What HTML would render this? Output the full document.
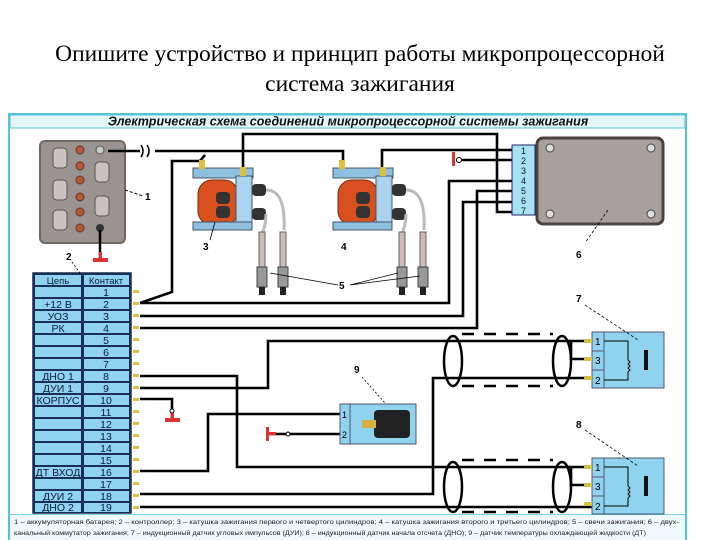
<!DOCTYPE html>
<html><head><meta charset="utf-8"><style>
html,body{margin:0;padding:0;background:#fff;width:720px;height:540px;overflow:hidden}
.t{position:absolute;left:0;width:720px;text-align:center;font-family:"Liberation Serif",serif;font-size:23.5px;color:#000;white-space:nowrap}
</style></head><body>
<div class="t" style="top:41px">Опишите устройство и принцип работы микропроцессорной</div>
<div class="t" style="top:71px">система зажигания</div>
<svg width="720" height="540" style="position:absolute;left:0;top:0" font-family="Liberation Sans, sans-serif">
<!-- frame -->
<rect x="9" y="114" width="677" height="430" fill="#fff" stroke="#55c4d6" stroke-width="2"/>
<rect x="10" y="115" width="675" height="13" fill="#e4f6fa" stroke="#55c4d6" stroke-width="1"/>
<text x="348" y="125.5" font-size="12.5" font-weight="bold" font-style="italic" text-anchor="middle" fill="#111">Электрическая схема соединений микропроцессорной системы зажигания</text>
<line x1="10" y1="515" x2="685" y2="515" stroke="#55c4d6" stroke-width="1.5"/>
<rect x="10" y="515" width="675" height="27" fill="#eef9fc"/>
<text x="14" y="524" font-size="6.3" fill="#222" textLength="665" lengthAdjust="spacingAndGlyphs">1 – аккумуляторная батарея; 2 – контроллер; 3 – катушка зажигания первого и четвертого цилиндров; 4 – катушка зажигания второго и третьего цилиндров; 5 – свечи зажигания; 6 – двух-</text>
<text x="14" y="535" font-size="6.3" fill="#222" textLength="632" lengthAdjust="spacingAndGlyphs">канальный коммутатор зажигания; 7 – индукционный датчик угловых импульсов (ДУИ); 8 – индукционный датчик начала отсчета (ДНО); 9 – датчик температуры охлаждающей жидкости (ДТ)</text>

<!-- battery -->
<rect x="40" y="141" width="85" height="102" rx="5" fill="#9a9390" stroke="#6e6764" stroke-width="2"/>
<g fill="#c9c3bf" stroke="#555" stroke-width="1">
<rect x="53" y="148" width="14" height="20" rx="4"/><rect x="95" y="162" width="14" height="20" rx="4"/>
<rect x="53" y="180" width="14" height="20" rx="4"/><rect x="95" y="196" width="14" height="20" rx="4"/>
<rect x="53" y="210" width="14" height="20" rx="4"/>
</g>
<g fill="#b05a3a" stroke="#6a3020" stroke-width="1">
<circle cx="80" cy="150" r="4"/><circle cx="80" cy="166" r="4"/><circle cx="80" cy="180" r="4"/><circle cx="80" cy="197" r="4"/><circle cx="80" cy="212" r="4"/><circle cx="80" cy="228" r="4"/>
</g>
<circle cx="100" cy="150" r="4" fill="#ccc" stroke="#555"/>
<circle cx="100" cy="228" r="4" fill="#333"/>
<line x1="125" y1="190" x2="143" y2="196" stroke="#000" stroke-dasharray="3,2"/>
<text x="145" y="200" font-size="10" font-weight="bold">1</text>
<line x1="100" y1="230" x2="100" y2="258" stroke="#000" stroke-width="2.5"/>
<rect x="93" y="258" width="15" height="4" fill="#d33"/><rect x="99" y="252" width="3" height="8" fill="#d33"/>
<text x="66" y="260" font-size="10" font-weight="bold">2</text>

<!-- wires top -->
<g fill="none" stroke="#000" stroke-width="2.6">
<polyline points="108,151 140,151"/><polyline points="155,151 343,151 343,162"/>
<polyline points="140,303 172,292 172,161 200,161 205,155"/>
<polyline points="243,167 243,134 497,134 497,212 512,212"/>
<polyline points="382,170 382,150 512,150"/>
<polyline points="458,160 512,160"/>
<polyline points="512,181 449,181 449,303 140,303"/>
<polyline points="512,202 463,202 463,316 140,316"/>
<polyline points="512,191 477,191 477,328 140,328"/>
<polyline points="140,376 237,376 237,467 592,467"/>
<polyline points="140,388 268,388 268,341 592,341"/>
<polyline points="140,399 172,399 172,418"/>
<polyline points="140,471 208,471 208,414 340,414"/>
<polyline points="140,494 433,494 433,378 592,378"/>
<polyline points="140,507 592,507"/>
<polyline points="571,341 571,359 592,359"/>
<polyline points="571,467 571,485 592,485"/>
<polyline points="268,434 340,434"/>
</g>
<path d="M141,145 q4,6 0,12 M147,145 q4,6 0,12" stroke="#000" fill="none" stroke-width="1.5"/>
<!-- grounds -->
<rect x="452" y="152" width="3" height="14" fill="#d33"/><circle cx="459" cy="160" r="2.5" fill="#fff" stroke="#000"/>
<rect x="165" y="418" width="15" height="4" fill="#d33"/><rect x="171" y="411" width="3" height="9" fill="#d33"/><circle cx="172" cy="411" r="2" fill="#fff" stroke="#000"/>
<rect x="266" y="427" width="3" height="14" fill="#d33"/><rect x="268" y="432" width="8" height="3" fill="#d33"/><circle cx="288" cy="434" r="2" fill="#fff" stroke="#000"/>

<!-- coils -->
<g id="coil">
<rect x="193" y="168" width="60" height="10" fill="#8fc0e0" stroke="#456" stroke-width="1"/>
<rect x="198" y="180" width="40" height="45" rx="14" fill="#d8501e" stroke="#7a2a10"/>
<rect x="236" y="176" width="16" height="52" fill="#a9d3ef" stroke="#456"/>
<rect x="193" y="222" width="59" height="8" fill="#8fc0e0" stroke="#456"/>
<rect x="216" y="192" width="14" height="12" rx="4" fill="#333"/><rect x="216" y="206" width="14" height="12" rx="4" fill="#333"/>
<rect x="252" y="184" width="14" height="12" rx="4" fill="#333"/><rect x="252" y="208" width="14" height="12" rx="4" fill="#333"/>
<rect x="199" y="160" width="6" height="9" fill="#d8c040"/><rect x="240" y="167" width="6" height="9" fill="#d8c040"/>
<path d="M266,190 q20,0 18,40 M266,214 q0,10 -4,20" stroke="#bbb" stroke-width="3" fill="none"/>
<rect x="259" y="232" width="6" height="35" fill="#cbb" stroke="#665"/><rect x="280" y="232" width="6" height="35" fill="#cbb" stroke="#665"/>
<rect x="257" y="267" width="10" height="20" fill="#999" stroke="#444"/><rect x="278" y="267" width="10" height="20" fill="#999" stroke="#444"/>
<rect x="259" y="287" width="6" height="8" fill="#222"/><rect x="280" y="287" width="6" height="8" fill="#222"/>
</g>
<use href="#coil" x="140"/>
<text x="203" y="250" font-size="10" font-weight="bold">3</text>
<text x="341" y="250" font-size="10" font-weight="bold">4</text>
<line x1="215" y1="222" x2="210" y2="240" stroke="#000" stroke-width="0.8"/>
<path d="M270,273 L338,285 M287,276 L338,285 M398,273 L350,285 M420,276 L350,285" stroke="#000" stroke-width="0.8" fill="none"/>
<text x="339" y="289" font-size="10" font-weight="bold">5</text>

<!-- controller 6 -->
<rect x="512" y="145" width="23" height="70" fill="#a6e2f4" stroke="#226"/>
<g font-size="9" fill="#112"><text x="521" y="154">1</text><text x="521" y="164">2</text><text x="521" y="174">3</text><text x="521" y="184">4</text><text x="521" y="194">5</text><text x="521" y="204">6</text><text x="521" y="214">7</text></g>
<rect x="537" y="138" width="126" height="86" rx="6" fill="#a8a09a" stroke="#4a4441" stroke-width="3"/>
<g fill="#ddd" stroke="#444"><circle cx="550" cy="148" r="4"/><circle cx="651" cy="148" r="4"/><circle cx="550" cy="214" r="4"/><circle cx="651" cy="214" r="4"/></g>
<line x1="608" y1="210" x2="585" y2="243" stroke="#000" stroke-width="0.8" stroke-dasharray="3,2"/>
<text x="576" y="258" font-size="10" font-weight="bold">6</text>

<!-- table -->
<rect x="33" y="273" width="98" height="240" fill="#1a2f55" stroke="#1a2f55" stroke-width="1.5"/>
<g fill="#8fd3ee">
<rect x="35" y="275" width="46" height="10"/><rect x="84" y="275" width="45" height="10"/>
<rect x="35" y="287" width="46" height="10"/><rect x="84" y="287" width="45" height="10"/>
<rect x="35" y="299" width="46" height="10"/><rect x="84" y="299" width="45" height="10"/>
<rect x="35" y="311" width="46" height="10"/><rect x="84" y="311" width="45" height="10"/>
<rect x="35" y="323" width="46" height="10"/><rect x="84" y="323" width="45" height="10"/>
<rect x="35" y="335" width="46" height="10"/><rect x="84" y="335" width="45" height="10"/>
<rect x="35" y="347" width="46" height="10"/><rect x="84" y="347" width="45" height="10"/>
<rect x="35" y="359" width="46" height="10"/><rect x="84" y="359" width="45" height="10"/>
<rect x="35" y="371" width="46" height="10"/><rect x="84" y="371" width="45" height="10"/>
<rect x="35" y="383" width="46" height="10"/><rect x="84" y="383" width="45" height="10"/>
<rect x="35" y="395" width="46" height="10"/><rect x="84" y="395" width="45" height="10"/>
<rect x="35" y="407" width="46" height="10"/><rect x="84" y="407" width="45" height="10"/>
<rect x="35" y="419" width="46" height="10"/><rect x="84" y="419" width="45" height="10"/>
<rect x="35" y="431" width="46" height="10"/><rect x="84" y="431" width="45" height="10"/>
<rect x="35" y="443" width="46" height="10"/><rect x="84" y="443" width="45" height="10"/>
<rect x="35" y="455" width="46" height="10"/><rect x="84" y="455" width="45" height="10"/>
<rect x="35" y="467" width="46" height="10"/><rect x="84" y="467" width="45" height="10"/>
<rect x="35" y="479" width="46" height="10"/><rect x="84" y="479" width="45" height="10"/>
<rect x="35" y="491" width="46" height="10"/><rect x="84" y="491" width="45" height="10"/>
<rect x="35" y="503" width="46" height="9"/><rect x="84" y="503" width="45" height="9"/>
</g>
<g font-size="9.5" fill="#0a1a3a" text-anchor="middle">
<text x="58" y="284">Цепь</text><text x="106" y="284">Контакт</text>
</g>
<g font-size="10.5" fill="#0a1a3a" text-anchor="middle">
<text x="106" y="296">1</text><text x="106" y="308">2</text><text x="106" y="320">3</text><text x="106" y="332">4</text><text x="106" y="344">5</text><text x="106" y="356">6</text><text x="106" y="368">7</text><text x="106" y="380">8</text><text x="106" y="392">9</text><text x="106" y="404">10</text><text x="106" y="416">11</text><text x="106" y="428">12</text><text x="106" y="440">13</text><text x="106" y="452">14</text><text x="106" y="464">15</text><text x="106" y="476">16</text><text x="106" y="488">17</text><text x="106" y="500">18</text><text x="106" y="511">19</text>
<text x="58" y="308">+12 В</text><text x="58" y="320">УОЗ</text><text x="58" y="332">РК</text><text x="58" y="380">ДНО 1</text><text x="58" y="392">ДУИ 1</text><text x="58" y="404">КОРПУС</text><text x="58" y="476">ДТ ВХОД</text><text x="58" y="500">ДУИ 2</text><text x="58" y="511">ДНО 2</text>
</g>
<g fill="#d8c040">
<rect x="133" y="290" width="6" height="3"/><rect x="133" y="302" width="6" height="3"/><rect x="133" y="314" width="6" height="3"/><rect x="133" y="326" width="6" height="3"/><rect x="133" y="338" width="6" height="3"/><rect x="133" y="350" width="6" height="3"/><rect x="133" y="362" width="6" height="3"/><rect x="133" y="374" width="6" height="3"/><rect x="133" y="386" width="6" height="3"/><rect x="133" y="398" width="6" height="3"/><rect x="133" y="410" width="6" height="3"/><rect x="133" y="422" width="6" height="3"/><rect x="133" y="434" width="6" height="3"/><rect x="133" y="446" width="6" height="3"/><rect x="133" y="458" width="6" height="3"/><rect x="133" y="470" width="6" height="3"/><rect x="133" y="482" width="6" height="3"/><rect x="133" y="494" width="6" height="3"/><rect x="133" y="506" width="6" height="3"/>
</g>
<line x1="72" y1="262" x2="80" y2="273" stroke="#000" stroke-width="0.8" stroke-dasharray="2,2"/>

<!-- sensor 9 -->
<rect x="340" y="404" width="76" height="40" fill="#8fd3ee" stroke="#557"/>
<line x1="350" y1="404" x2="350" y2="444" stroke="#557"/>
<text x="342" y="418" font-size="9">1</text><text x="342" y="438" font-size="9">2</text>
<rect x="374" y="410" width="36" height="28" rx="4" fill="#222"/>
<rect x="362" y="420" width="14" height="8" fill="#d8b040"/>
<line x1="362" y1="377" x2="385" y2="403" stroke="#000" stroke-width="0.8" stroke-dasharray="2,2"/>
<text x="354" y="373" font-size="10" font-weight="bold">9</text>

<!-- sensors 7 & 8 -->
<g id="sens">
<rect x="592" y="332" width="72" height="56" fill="#8fd3ee" stroke="#557"/>
<line x1="604" y1="332" x2="604" y2="388" stroke="#557"/><line x1="592" y1="351" x2="604" y2="351" stroke="#557"/><line x1="592" y1="370" x2="604" y2="370" stroke="#557"/>
<text x="595" y="345" font-size="10">1</text><text x="595" y="364" font-size="10">3</text><text x="595" y="384" font-size="10">2</text>
<path d="M604,341 H628 V360 M628,372 V380 H604" stroke="#000" fill="none" stroke-width="1"/>
<path d="M628,360 l2,2 -2,2 2,2 -2,2 2,2 -2,2" stroke="#000" fill="none" stroke-width="1"/>
<rect x="644" y="350" width="4" height="20" fill="#111"/>
<ellipse cx="453" cy="361" rx="9" ry="25" fill="none" stroke="#000" stroke-width="2.5"/>
<ellipse cx="562" cy="361" rx="9" ry="25" fill="none" stroke="#000" stroke-width="2.5"/>
<line x1="462" y1="334" x2="553" y2="334" stroke="#000" stroke-width="2.5" stroke-dasharray="12,10"/>
<line x1="462" y1="386" x2="553" y2="386" stroke="#000" stroke-width="2.5" stroke-dasharray="12,10"/>
<rect x="584" y="339" width="8" height="4" fill="#d8c040"/><rect x="584" y="357" width="8" height="4" fill="#d8c040"/><rect x="584" y="376" width="8" height="4" fill="#d8c040"/>
</g>
<use href="#sens" y="126"/>
<line x1="585" y1="305" x2="638" y2="340" stroke="#000" stroke-width="0.8" stroke-dasharray="3,2"/>
<text x="576" y="302" font-size="10" font-weight="bold">7</text>
<line x1="585" y1="430" x2="638" y2="466" stroke="#000" stroke-width="0.8" stroke-dasharray="3,2"/>
<text x="576" y="428" font-size="10" font-weight="bold">8</text>
</svg>
</body></html>
